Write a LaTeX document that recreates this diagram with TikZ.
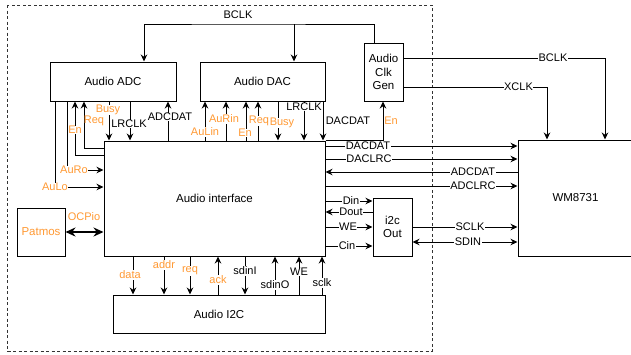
\documentclass[tikz,border=0pt]{standalone}
\usepackage{fontspec}
\setmainfont{Liberation Sans}
\usetikzlibrary{arrows.meta}
\definecolor{org}{HTML}{FF9933}
\tikzset{
  box/.style={draw, line width=1pt, fill=white, inner sep=0pt, font=\fontsize{11.5}{13.5}\selectfont, align=center},
  arr/.style={line width=1pt, -{Stealth[length=7pt,width=6.5pt]}},
  darr/.style={line width=1pt, {Stealth[length=7pt,width=6.5pt]}-{Stealth[length=7pt,width=6.5pt]}},
  bigdarr/.style={line width=1.8pt, {Stealth[length=10pt,width=9pt]}-{Stealth[length=10pt,width=9pt]}},
  lbl/.style={inner sep=0.5pt, font=\fontsize{11}{13}\selectfont},
  wlbl/.style={lbl, fill=white},
  olbl/.style={lbl, text=org},
  owlbl/.style={lbl, text=org, fill=white},
}
\begin{document}
\begin{tikzpicture}[x=1pt, y=-1pt]
\useasboundingbox (0,0) rectangle (631,354);
\draw[dashed, line width=0.9pt, dash pattern=on 3pt off 2.5pt, black!80] (7,5) rectangle (432,351);

% nodes
\node[box, minimum width=126pt, minimum height=39pt] (adc) at (113,81.5) {Audio ADC};
\node[box, minimum width=125pt, minimum height=39pt] (dac) at (262.5,81.5) {Audio DAC};
\node[box, minimum width=39pt, minimum height=58pt] (clk) at (383.5,72) {Audio\\Clk\\Gen};
\node[box, minimum width=221pt, minimum height=115pt] (ai) at (214.5,198.5) {Audio interface};
\node[box, minimum width=48pt, minimum height=48pt, text=org] (patmos) at (41,232) {Patmos};
\node[box, minimum width=212pt, minimum height=38pt] (i2c) at (219,314) {Audio I2C};
\node[box, minimum width=115pt, minimum height=116pt] (wm) at (575.5,198) {WM8731};
\node[box, minimum width=39pt, minimum height=58pt] (io) at (392.5,227) {i2c\\Out};

% BCLK bus on top
\coordinate (btop) at (238,24);
\draw[arr] (clk.north -| 374,0) |- (btop) -| (adc.north -| 144,0);
\draw[arr] (btop -| 294,0) -- (dac.north -| 294,0);
\node[lbl] (bclklbl) at (238,15) {BCLK};

% clock gen outputs
\draw[arr] (clk.east |- 0,58) -| (wm.north -| 605,0);
\node[wlbl] (bclk2) at (553,58) {BCLK};
\draw[arr] (clk.east |- 0,87) -| (wm.north -| 547,0);
\node[wlbl] (xclk) at (518.5,87) {XCLK};
\draw[arr] (ai.north east) -| (clk.south -| 383,0);
\node[olbl] (clken) at (391,121) {En};

% ADC side
\draw[arr] (adc.south -| 55,0) |- (ai.west |- 0,187);
\node[owlbl] (aulo) at (55,187) {AuLo};
\draw[arr] (adc.south -| 67,0) |- (ai.west |- 0,170);
\node[owlbl] (auro) at (74,170) {AuRo};
\draw[arr] (ai.west |- 0,155) -| (adc.south -| 75,0);
\node[owlbl] (aden) at (75,130) {En};
\draw[arr] (ai.west |- 0,148) -| (adc.south -| 84,0);
\node[olbl] (adreq) at (94,121) {Req};
\draw[arr] (adc.south -| 109,0) -- (ai.north -| 109,0);
\node[owlbl] (adbusy) at (108,110) {Busy};
\draw[arr] (adc.south -| 130,0) -- (ai.north -| 130,0);
\node[wlbl] (adlr) at (129,124) {LRCLK};
\draw[arr] (ai.north -| 168,0) -- (adc.south -| 168,0);
\node[wlbl] (addat) at (170,117) {ADCDAT};

% DAC side
\draw[arr] (ai.north -| 205,0) -- (dac.south -| 205,0);
\node[owlbl] (aulin) at (205,132) {AuLin};
\draw[arr] (ai.north -| 226,0) -- (dac.south -| 226,0);
\node[owlbl] (aurin) at (224,119) {AuRin};
\draw[arr] (ai.north -| 246,0) -- (dac.south -| 246,0);
\node[owlbl] (daen) at (245,133) {En};
\draw[arr] (ai.north -| 258,0) -- (dac.south -| 258,0);
\node[owlbl] (dareq) at (259,121) {Req};
\draw[arr] (dac.south -| 278,0) -- (ai.north -| 278,0);
\node[owlbl] (dabusy) at (282,123) {Busy};
\draw[arr] (dac.south -| 304,0) -- (ai.north -| 304,0);
\node[wlbl] (dalr) at (304,107) {LRCLK};
\draw[arr] (dac.south -| 323,0) -- (ai.north -| 323,0);
\node[lbl] (dadat) at (348,121) {DACDAT};

% interface to WM8731
\draw[arr] (ai.east |- 0,146) -- (wm.west |- 0,146);
\node[wlbl] (l1) at (368,146) {DACDAT};
\draw[arr] (ai.east |- 0,159) -- (wm.west |- 0,159);
\node[wlbl] (l2) at (369,159) {DACLRC};
\draw[arr] (wm.west |- 0,172) -- (ai.east |- 0,172);
\node[wlbl] (l3) at (473,172) {ADCDAT};
\draw[arr] (ai.east |- 0,186) -- (wm.west |- 0,186);
\node[wlbl] (l4) at (473,186) {ADCLRC};

% interface to i2c out
\draw[arr] (ai.east |- 0,201) -- (io.west |- 0,201);
\node[wlbl] (l5) at (351,201) {Din};
\draw[arr] (io.west |- 0,212) -- (ai.east |- 0,212);
\node[wlbl] (l6) at (351,212) {Dout};
\draw[arr] (ai.east |- 0,227) -- (io.west |- 0,227);
\node[wlbl] (l7) at (348,227) {WE};
\draw[arr] (ai.east |- 0,246) -- (io.west |- 0,246);
\node[wlbl] (l8) at (347,246) {Cin};
\draw[arr] (io.east |- 0,227) -- (wm.west |- 0,227);
\node[wlbl] (l9) at (470,227) {SCLK};
\draw[darr] (io.east |- 0,242) -- (wm.west |- 0,242);
\node[wlbl] (l10) at (468,242) {SDIN};

% Patmos
\draw[bigdarr] (patmos.east) -- (ai.west |- patmos.east);
\node[olbl] (ocp) at (84,217) {OCPio};

% bottom to I2C
\draw[arr] (ai.south -| 133,0) -- (i2c.north -| 133,0);
\node[owlbl] (bdata) at (130,275) {data};
\draw[arr] (ai.south -| 164,0) -- (i2c.north -| 164,0);
\node[owlbl] (baddr) at (164,265) {addr};
\draw[arr] (ai.south -| 190,0) -- (i2c.north -| 190,0);
\node[owlbl] (breq) at (190,271) {req};
\draw[arr] (i2c.north -| 218,0) -- (ai.south -| 218,0);
\node[owlbl] (back) at (218,280) {ack};
\draw[arr] (ai.south -| 245,0) -- (i2c.north -| 245,0);
\node[wlbl] (bsdi) at (245,271) {sdinI};
\draw[arr] (i2c.north -| 275,0) -- (ai.south -| 275,0);
\node[wlbl] (bsdo) at (275,285) {sdinO};
\draw[arr] (i2c.north -| 299,0) -- (ai.south -| 299,0);
\node[wlbl] (bwe) at (299,272) {WE};
\draw[arr] (i2c.north -| 322,0) -- (ai.south -| 322,0);
\node[wlbl] (bsclk) at (322,283) {sclk};
\end{tikzpicture}
\end{document}
